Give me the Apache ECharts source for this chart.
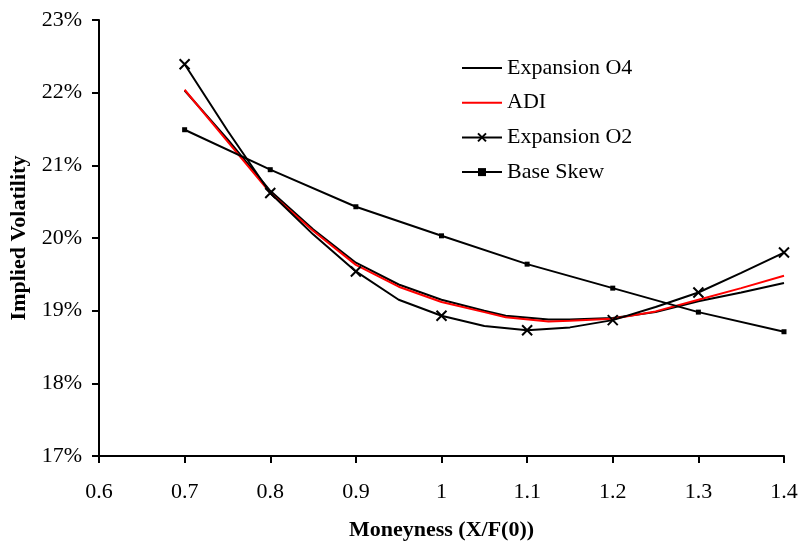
<!DOCTYPE html>
<html>
<head>
<meta charset="utf-8">
<script src="https://cdn.jsdelivr.net/npm/echarts@6/dist/echarts.min.js"></script>
<style>
  html, body { margin: 0; padding: 0; background: #fff; }
  #chart { width: 800px; height: 541px; }
</style>
</head>
<body>
<div id="chart"></div>
<script>
// Moneyness grids
const fineMoneyness = [0.7, 0.75, 0.8, 0.85, 0.9, 0.95, 1.0, 1.05, 1.075, 1.125, 1.15, 1.2, 1.25, 1.3, 1.35, 1.4];
const halfStepMoneyness = [0.7, 0.75, 0.8, 0.85, 0.9, 0.95, 1.0, 1.05, 1.1, 1.15, 1.2, 1.25, 1.3, 1.35, 1.4];
const baseMoneyness = [0.7, 0.8, 0.9, 1.0, 1.1, 1.2, 1.3, 1.4];

// Implied volatility, in percent
const expansionO4 = [22.03, 21.36, 20.65, 20.12, 19.66, 19.36, 19.15, 19.00, 18.93, 18.88, 18.88, 18.90, 18.98, 19.13, 19.25, 19.38];
const adi = [22.04, 21.33, 20.62, 20.10, 19.63, 19.33, 19.12, 18.98, 18.91, 18.85, 18.86, 18.89, 18.99, 19.15, 19.31, 19.48];
const expansionO2 = [22.39, 21.48, 20.62, 20.05, 19.54, 19.15, 18.93, 18.79, 18.73, 18.77, 18.87, 19.05, 19.25, 19.52, 19.80];
const baseSkew = [21.49, 20.94, 20.43, 20.03, 19.64, 19.31, 18.98, 18.71];

// Axis tick values
const xTicks = { min: 0.6, max: 1.4, step: 0.1 };
const yTicks = { min: 17, max: 23, step: 1 };

const FONT = 'Liberation Serif';
const CROSS = 'path://M0,0L10,10M10,0L0,10';

function pairs(xs, ys) {
  return xs.map((x, i) => [x, ys[i]]);
}

// Crosses only on the 0.1 grid; the in-between points just shape the curve
const o2Data = halfStepMoneyness.map((x, i) => {
  const onGrid = Math.abs(Math.round(x * 10) - x * 10) < 1e-9;
  return onGrid ? { value: [x, expansionO2[i]] } : { value: [x, expansionO2[i]], symbol: 'none' };
});

const chart = echarts.init(document.getElementById('chart'), null, { renderer: 'canvas' });

const noMarker = { opacity: 0 };

chart.setOption({
  animation: false,
  backgroundColor: '#fff',
  textStyle: { fontFamily: FONT, color: '#000' },
  grid: { left: 99, right: 16, top: 20, bottom: 85, containLabel: false, outerBoundsMode: 'none' },
  legend: {
    orient: 'vertical',
    left: 456,
    top: 52,
    itemWidth: 40,
    itemHeight: 10,
    itemGap: 12.7,
    textStyle: { fontFamily: FONT, fontSize: 22, color: '#000', lineHeight: 22 },
    data: [
      { name: 'Expansion O4', itemStyle: noMarker },
      { name: 'ADI', itemStyle: noMarker },
      { name: 'Expansion O2' },
      { name: 'Base Skew' }
    ]
  },
  xAxis: {
    type: 'value',
    min: xTicks.min,
    max: xTicks.max,
    interval: xTicks.step,
    name: 'Moneyness (X/F(0))',
    nameLocation: 'middle',
    nameGap: 63,
    nameTextStyle: { fontFamily: FONT, fontSize: 22, fontWeight: 'bold', color: '#000' },
    axisLine: { show: true, lineStyle: { color: '#000', width: 2 } },
    axisTick: { show: true, length: 7, lineStyle: { color: '#000', width: 2 } },
    axisLabel: {
      margin: 25,
      fontFamily: FONT, fontSize: 22, color: '#000',
      formatter: v => String(+v.toFixed(1))
    },
    splitLine: { show: false }
  },
  yAxis: {
    type: 'value',
    min: yTicks.min,
    max: yTicks.max,
    interval: yTicks.step,
    name: 'Implied Volatility',
    nameLocation: 'middle',
    nameGap: 62,
    nameTextStyle: { fontFamily: FONT, fontSize: 22, fontWeight: 'bold', color: '#000' },
    axisLine: { show: true, lineStyle: { color: '#000', width: 2 } },
    axisTick: { show: true, length: 7, lineStyle: { color: '#000', width: 2 } },
    axisLabel: {
      margin: 17,
      fontFamily: FONT, fontSize: 22, color: '#000',
      formatter: '{value}%'
    },
    splitLine: { show: false }
  },
  series: [
    {
      name: 'Expansion O4',
      type: 'line',
      data: pairs(fineMoneyness, expansionO4),
      symbol: 'none',
      lineStyle: { color: '#000', width: 2 },
      itemStyle: { color: '#000' }
    },
    {
      name: 'ADI',
      type: 'line',
      data: pairs(fineMoneyness, adi),
      symbol: 'none',
      lineStyle: { color: '#ff0000', width: 2 },
      itemStyle: { color: '#ff0000' }
    },
    {
      name: 'Expansion O2',
      type: 'line',
      data: o2Data,
      symbol: CROSS,
      symbolSize: 10,
      showAllSymbol: true,
      lineStyle: { color: '#000', width: 2 },
      itemStyle: { color: '#000', borderColor: '#000', borderWidth: 2 }
    },
    {
      name: 'Base Skew',
      type: 'line',
      data: pairs(baseMoneyness, baseSkew),
      symbol: 'rect',
      symbolSize: 5,
      showAllSymbol: true,
      lineStyle: { color: '#000', width: 2 },
      itemStyle: { color: '#000' }
    }
  ]
});
</script>
</body>
</html>
